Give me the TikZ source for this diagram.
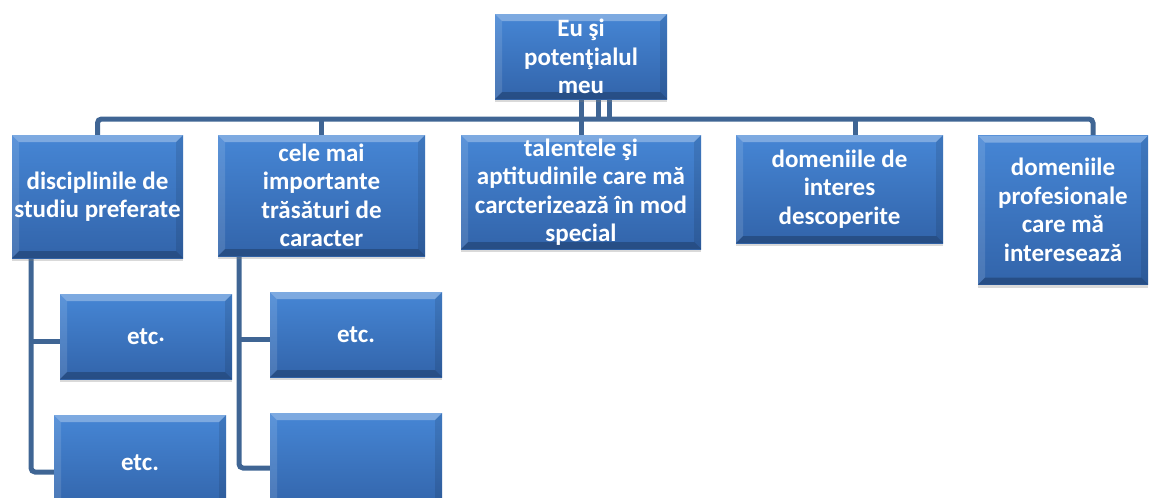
\documentclass[tikz,border=0pt]{standalone}
\usepackage{fontspec}
\setmainfont{Carlito}
\usetikzlibrary{shadows}
\pgfdeclarelayer{bg}
\pgfsetlayers{bg,main}
\definecolor{conncol}{HTML}{3F6594}
\definecolor{boxtop}{HTML}{4686D5}
\definecolor{boxbot}{HTML}{3264AA}
\tikzset{
  sabox/.style={draw=none, top color=boxtop, bottom color=boxbot,
    font=\bfseries\fontsize{25}{28.5}\selectfont, text=white, align=center,
    inner sep=0pt,
    drop shadow={shadow xshift=0pt, shadow yshift=-3pt, opacity=0.3},
    path picture={
      \fill[white,opacity=0.3] (path picture bounding box.north west) -- (path picture bounding box.north east)
        -- ([shift={(-7pt,-7pt)}]path picture bounding box.north east) -- ([shift={(7pt,-7pt)}]path picture bounding box.north west) -- cycle;
      \fill[white,opacity=0.12] (path picture bounding box.north west) -- (path picture bounding box.south west)
        -- ([shift={(7pt,7pt)}]path picture bounding box.south west) -- ([shift={(7pt,-7pt)}]path picture bounding box.north west) -- cycle;
      \fill[black,opacity=0.1] (path picture bounding box.north east) -- (path picture bounding box.south east)
        -- ([shift={(-7pt,7pt)}]path picture bounding box.south east) -- ([shift={(-7pt,-7pt)}]path picture bounding box.north east) -- cycle;
      \fill[black,opacity=0.22] (path picture bounding box.south west) -- (path picture bounding box.south east)
        -- ([shift={(-7pt,7pt)}]path picture bounding box.south east) -- ([shift={(7pt,7pt)}]path picture bounding box.south west) -- cycle;
    }},
  connline/.style={draw=conncol, line width=5pt, rounded corners=4pt},
}
\begin{document}
\begin{tikzpicture}[x=1pt,y=-1pt]
\clip (0,0) rectangle (1154,498);
\node[sabox,minimum width=172pt,minimum height=85pt] (root) at (581,56.5) {Eu şi\\potenţialul\\meu};
\node[sabox,minimum width=171pt,minimum height=123pt] (d1) at (97.5,196.5) {disciplinile de\\studiu preferate};
\node[sabox,minimum width=207pt,minimum height=121pt] (d2) at (321.5,195.5) {cele mai\\importante\\trăsături de\\caracter};
\node[sabox,minimum width=240pt,minimum height=114pt] (d3) at (581,192) {talentele şi\\aptitudinile care mă\\carcterizează în mod\\special};
\node[sabox,minimum width=207pt,minimum height=108pt] (d4) at (839.5,189) {domeniile de\\interes\\descoperite};
\node[sabox,minimum width=170pt,minimum height=149pt] (d5) at (1063,210) {domeniile\\profesionale\\care mă\\interesează};
\node[sabox,minimum width=172pt,minimum height=85pt] (e1) at (146,336.5) {etc\raisebox{0.25ex}{.}};
\node[sabox,minimum width=172pt,minimum height=95pt] (e2) at (140,462.5) {etc.};
\node[sabox,minimum width=172pt,minimum height=85pt] (e3) at (356,334.5) {etc.};
\node[sabox,minimum width=172pt,minimum height=97pt] (e4) at (356,461.5) {};
\coordinate (bus) at (0,119);
\coordinate (s1) at ([xshift=-66.5pt]d1.south);
\coordinate (s2) at ([xshift=-82.5pt]d2.south);
\begin{pgfonlayer}{bg}
\draw[connline] (d1.north) |- ([xshift=30pt]d5.north |- bus) -- ([xshift=30pt]d5.north);
\draw[connline] (d2.north) -- (d2.north |- bus);
\draw[connline] ([xshift=15.5pt]d4.north) -- ([xshift=15.5pt]d4.north |- bus);
\draw[connline] (root.south) -- (d3.north);
\draw[connline] ([xshift=17pt]root.south) -- ([xshift=17pt]root.south |- bus);
\draw[connline] ([xshift=28pt]root.south) -- ([xshift=28pt]root.south |- bus);
\draw[connline] (s1) |- ([yshift=-9.5pt]e2.west);
\draw[connline] ([yshift=-4.5pt]s1 |- e1.west) -- ([yshift=-4.5pt]e1.west);
\draw[connline] (s2) |- ([yshift=-6.5pt]e4.west);
\draw[connline] ([yshift=-4.5pt]s2 |- e3.west) -- ([yshift=-4.5pt]e3.west);
\end{pgfonlayer}
\end{tikzpicture}
\end{document}
